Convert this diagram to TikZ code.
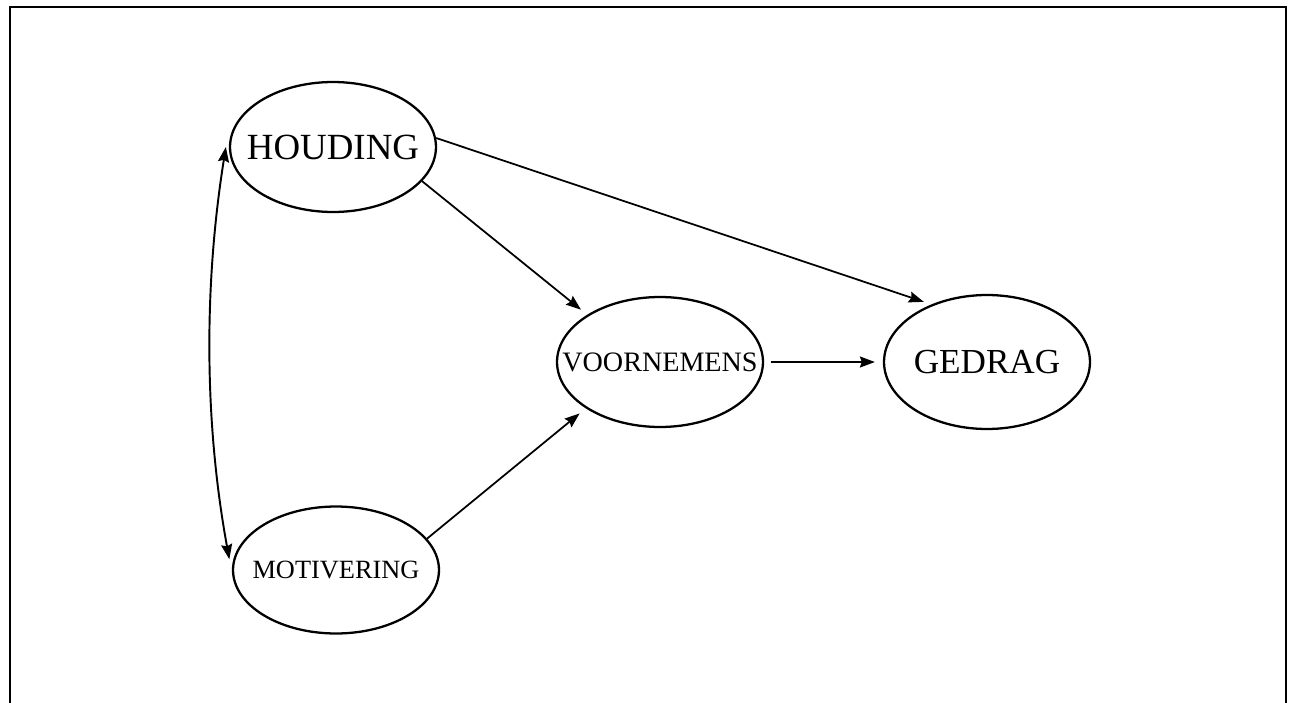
\documentclass[tikz,border=0pt]{standalone}
\usepackage{fontspec}
\setmainfont{Liberation Serif}
\usetikzlibrary{arrows.meta,shapes.geometric}

\begin{document}
\begin{tikzpicture}[
        x=0.02cm, y=-0.02cm,
        bol/.style={draw, ellipse, line width=1.3pt, inner sep=0pt, minimum width=4.12cm, minimum height=2.6cm},
        arrow/.style={-{Stealth[length=0.3cm, width=0.22cm, inset=0.04cm]}, line width=1pt, shorten >=0.16cm},
        dblarrow/.style={{Stealth[length=0.3cm, width=0.22cm, inset=0.04cm]}-{Stealth[length=0.3cm, width=0.22cm, inset=0.04cm]}, line width=1.1pt}
    ]
        \useasboundingbox (0,0) rectangle (1296,703);
        % kader (onderkant valt weg)
        \draw[line width=1.2pt] (10,703) -- (10,7) -- (1286,7) -- (1286,703);

        % begrippen
        \node[bol] (houding) at (333,147) {\fontsize{21}{24}\selectfont\makebox[0pt]{HOUDING}};
        \node[bol, minimum height=2.54cm] (motivering) at (336,570) {\fontsize{15}{18}\selectfont\makebox[0pt]{MOTIVERING}};
        \node[bol] (voornemens) at (660,362) {\fontsize{16}{19}\selectfont\makebox[0pt]{VOORNEMENS}};
        \node[bol, minimum height=2.68cm] (gedrag) at (987,362) {\fontsize{20}{24}\selectfont\makebox[0pt]{GEDRAG}};

        % verbanden
        \draw[dblarrow] ([xshift=-0.06cm]houding.180) .. controls (204,284) and (204,421) .. ([xshift=-0.08cm]motivering.174);
        \draw[arrow] (houding.-21) -- (voornemens.147);
        \draw[arrow] (houding.5) -- (gedrag.134);
        \draw[arrow] (motivering.19) -- (voornemens.212);
        \draw[arrow, shorten <=0.14cm] (voornemens.east) -- (gedrag.west);
    \end{tikzpicture}
\end{document}
